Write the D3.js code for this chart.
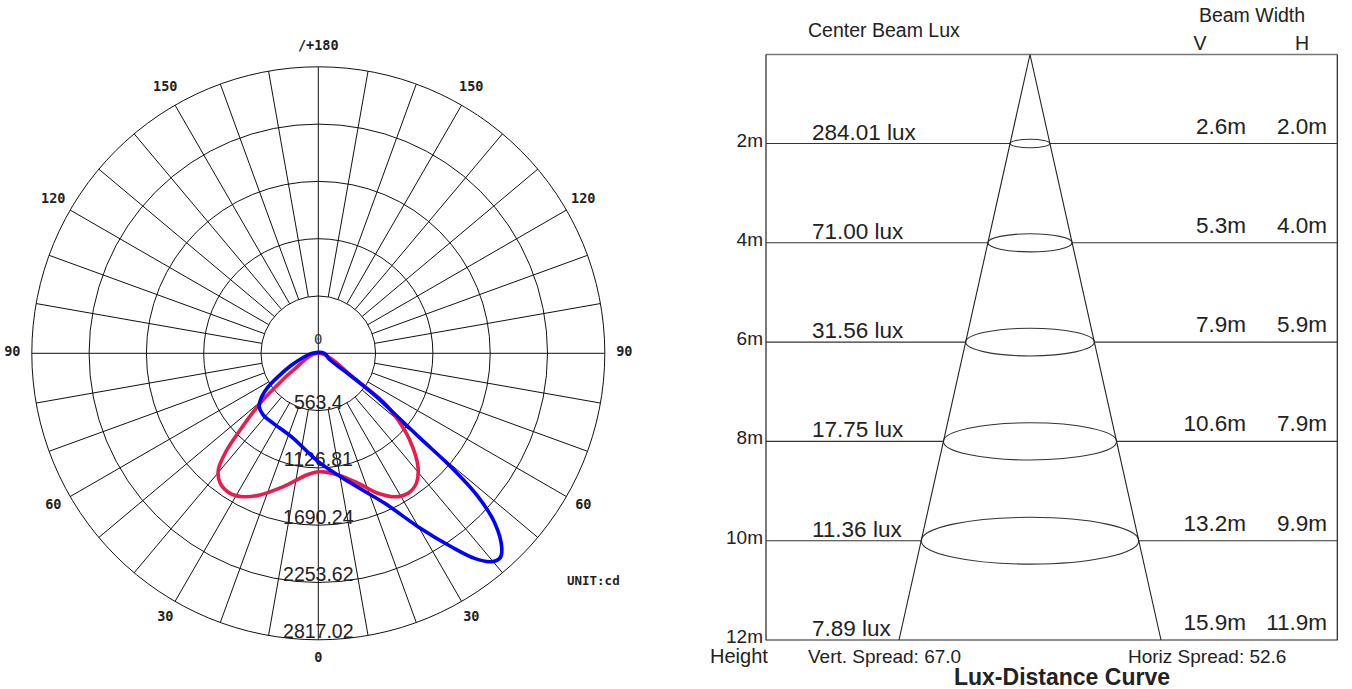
<!DOCTYPE html>
<html>
<head>
<meta charset="utf-8">
<script src="https://cdn.jsdelivr.net/npm/d3@7"></script>
<style>
  html, body { margin: 0; padding: 0; background: #fff; }
  svg { display: block; }
</style>
</head>
<body>
<svg id="chart" width="1352" height="689"></svg>
<script>
// ---------------- DATA ----------------
// Polar intensity diagram (cd)
const ringValues = [563.4, 1126.81, 1690.24, 2253.62, 2817.02];
const ringLabels = ["563.4", "1126.81", "1690.24", "2253.62", "2817.02"];
const angleTicks = [0, 30, 60, 90, 120, 150, 180];
const angleTickLabels = ["0", "30", "60", "90", "120", "150", "/+180"];
const unitLabel = "UNIT:cd";
// [angle from nadir in degrees (negative = left), intensity cd]
const redCurve = [
  [180, 0],
  [-56, 296], [-52, 520], [-50, 700], [-47.5, 900], [-45.5, 1080], [-43.4, 1310],
  [-40.6, 1511], [-37, 1602], [-32.2, 1627], [-27.6, 1591], [-22.4, 1506],
  [-14.7, 1356], [-5.4, 1202], [0, 1164], [9.2, 1212], [17, 1336], [23.1, 1496],
  [28, 1598], [32.6, 1635], [37, 1601], [41.3, 1485], [46.5, 1239], [50.1, 1022],
  [53, 817], [55, 450]
];
const blueCurve = [
  [-90, 60], [-75, 150], [-66, 290], [-60, 450], [-56, 600], [-52.5, 701],
  [-47.9, 783], [-41.7, 813], [-32.7, 818], [-16.4, 871], [0, 1065], [14.2, 1319],
  [23.9, 1613], [29.9, 1966], [34.5, 2308], [37.3, 2535], [39.7, 2663], [41.7, 2690],
  [43.4, 2625], [46.1, 2409], [48.1, 2110], [49.4, 1719], [50.2, 1300], [51.6, 950],
  [53.2, 720], [54.5, 500], [56, 300], [62, 120], [90, 60]
];

// Lux-distance diagram
const heights = [2, 4, 6, 8, 10, 12];
const centerLux = [284.01, 71.00, 31.56, 17.75, 11.36, 7.89];
const beamV = [2.6, 5.3, 7.9, 10.6, 13.2, 15.9];
const beamH = [2.0, 4.0, 5.9, 7.9, 9.9, 11.9];
const vertSpread = 67.0;
const horizSpread = 52.6;

// ---------------- POLAR ----------------
const svg = d3.select("#chart");
svg.append("rect").attr("width", 1352).attr("height", 689).attr("fill", "#fff");

const cx = 318.3, cy = 353.3, R = 286.5;
const rScale = d3.scaleLinear().domain([0, d3.max(ringValues)]).range([0, R]);
const toRad = d => d * Math.PI / 180;
// angle measured from nadir (down), positive to the right
const px = (a, r) => r * Math.sin(toRad(a));
const py = (a, r) => r * Math.cos(toRad(a));

const polar = svg.append("g").attr("transform", `translate(${cx},${cy})`);
const grid = polar.append("g").attr("stroke", "#111").attr("stroke-width", 1).attr("fill", "none");

grid.selectAll("circle").data(ringValues).join("circle").attr("r", d => rScale(d));

const spokeAngles = d3.range(0, 360, 10).filter(a => a % 90 !== 0);
const r1 = rScale(ringValues[0]);
grid.selectAll("line.spoke").data(spokeAngles).join("line").attr("class", "spoke")
  .attr("x1", a => px(a, r1)).attr("y1", a => py(a, r1))
  .attr("x2", a => px(a, R)).attr("y2", a => py(a, R));
// full axes
grid.append("line").attr("x1", 0).attr("y1", -R).attr("x2", 0).attr("y2", R);
grid.append("line").attr("x1", -R).attr("y1", 0).attr("x2", R).attr("y2", 0);

// angle labels
const labelR = 306;
const angleData = [];
angleTicks.forEach((a, i) => {
  angleData.push({ a: a, t: angleTickLabels[i] });
  if (a !== 0 && a !== 180) angleData.push({ a: -a, t: angleTickLabels[i] });
});
polar.append("g").selectAll("text").data(angleData).join("text")
  .attr("x", d => px(d.a, labelR)).attr("y", d => py(d.a, labelR) - 2)
  .attr("text-anchor", "middle").attr("dominant-baseline", "central")
  .attr("font-family", "DejaVu Sans Mono").attr("font-weight", "bold")
  .attr("font-size", 13.5).attr("fill", "#222")
  .text(d => d.t);

// centre zero label
polar.append("text").attr("x", 0).attr("y", -9)
  .attr("text-anchor", "middle")
  .attr("font-family", "DejaVu Sans Mono").attr("font-size", 14).attr("fill", "#333")
  .text("0");

// ring labels
polar.append("g").selectAll("text").data(ringValues).join("text")
  .attr("x", 0).attr("y", d => rScale(d) - 1.5)
  .attr("text-anchor", "middle")
  .attr("font-family", "Liberation Sans, Arial, sans-serif")
  .attr("font-size", 19.5).attr("fill", "#222")
  .text((d, i) => ringLabels[i]);

// unit
polar.append("text").attr("x", 567 - cx).attr("y", 585 - cy)
  .attr("font-family", "DejaVu Sans Mono").attr("font-weight", "bold")
  .attr("font-size", 12.5).attr("fill", "#222").text(unitLabel);

// curves
const radial = d3.lineRadial()
  .angle(d => toRad(180 - d[0]))
  .radius(d => rScale(d[1]))
  .curve(d3.curveCatmullRomClosed.alpha(0.5));

polar.append("path").datum(redCurve).attr("d", radial)
  .attr("fill", "none").attr("stroke", "#e81d4e").attr("stroke-width", 3.6)
  .attr("stroke-linejoin", "round");
polar.append("path").datum(blueCurve).attr("d", radial)
  .attr("fill", "none").attr("stroke", "#0000ff").attr("stroke-width", 3.6)
  .attr("stroke-linejoin", "round");

// ---------------- LUX-DISTANCE ----------------
const boxL = 766, boxR = 1337.3, boxT = 54.5, boxB = 640, coneX = 1030;
const y = d3.scaleLinear().domain([2, 12]).range([143.5, boxB]);
const halfW = d3.scaleLinear().domain([boxT, boxB]).range([0, 131]);
const font = "Liberation Sans, Arial, sans-serif";
const lux = svg.append("g");

// top line
lux.append("line").attr("x1", boxL).attr("x2", boxR).attr("y1", boxT).attr("y2", boxT)
  .attr("stroke", "#777").attr("stroke-width", 1.6);
// box sides and bottom
lux.append("path").attr("d", `M${boxL},${boxT}V${boxB}H${boxR}V${boxT}`)
  .attr("fill", "none").attr("stroke", "#222").attr("stroke-width", 1.2);
// height lines
lux.selectAll("line.h").data(heights.slice(0, -1)).join("line").attr("class", "h")
  .attr("x1", boxL).attr("x2", boxR).attr("y1", d => y(d)).attr("y2", d => y(d))
  .attr("stroke", "#333").attr("stroke-width", 1.1);
// ellipses
lux.selectAll("ellipse").data(heights.slice(0, -1)).join("ellipse")
  .attr("cx", coneX).attr("cy", d => y(d))
  .attr("rx", d => halfW(y(d))).attr("ry", d => halfW(y(d)) * 0.215)
  .attr("fill", "#fff").attr("stroke", "#333").attr("stroke-width", 1.1);
// cone
lux.append("path")
  .attr("d", `M${coneX - halfW(boxB)},${boxB}L${coneX},${boxT}L${coneX + halfW(boxB)},${boxB}`)
  .attr("fill", "none").attr("stroke", "#222").attr("stroke-width", 1.1);

// labels
const textG = lux.append("g").attr("font-family", font).attr("fill", "#222");
textG.selectAll("text.hl").data(heights).join("text").attr("class", "hl")
  .attr("x", 763).attr("y", d => y(d) + 3).attr("text-anchor", "end")
  .attr("font-size", 19).text(d => d + "m");
textG.selectAll("text.lux").data(centerLux).join("text").attr("class", "lux")
  .attr("x", 812).attr("y", (d, i) => y(heights[i]) - 4)
  .attr("font-size", 22.5).text(d => d.toFixed(2) + " lux");
textG.selectAll("text.bv").data(beamV).join("text").attr("class", "bv")
  .attr("x", 1246).attr("y", (d, i) => y(heights[i]) - 10).attr("text-anchor", "end")
  .attr("font-size", 22.5).text(d => d.toFixed(1) + "m");
textG.selectAll("text.bh").data(beamH).join("text").attr("class", "bh")
  .attr("x", 1327).attr("y", (d, i) => y(heights[i]) - 10).attr("text-anchor", "end")
  .attr("font-size", 22.5).text(d => d.toFixed(1) + "m");

textG.append("text").attr("x", 808).attr("y", 37).attr("font-size", 19.5).text("Center Beam Lux");
textG.append("text").attr("x", 1252).attr("y", 22).attr("text-anchor", "middle").attr("font-size", 19.5).text("Beam Width");
textG.append("text").attr("x", 1200).attr("y", 50).attr("text-anchor", "middle").attr("font-size", 19.5).text("V");
textG.append("text").attr("x", 1302).attr("y", 50).attr("text-anchor", "middle").attr("font-size", 19.5).text("H");
textG.append("text").attr("x", 710).attr("y", 663).attr("font-size", 20).text("Height");
textG.append("text").attr("x", 808).attr("y", 663).attr("font-size", 19).text("Vert. Spread: " + vertSpread.toFixed(1));
textG.append("text").attr("x", 1128).attr("y", 663).attr("font-size", 19).text("Horiz Spread: " + horizSpread.toFixed(1));
textG.append("text").attr("x", 1062).attr("y", 685).attr("text-anchor", "middle")
  .attr("font-size", 23).attr("font-weight", "bold").text("Lux-Distance Curve");
</script>
</body>
</html>
